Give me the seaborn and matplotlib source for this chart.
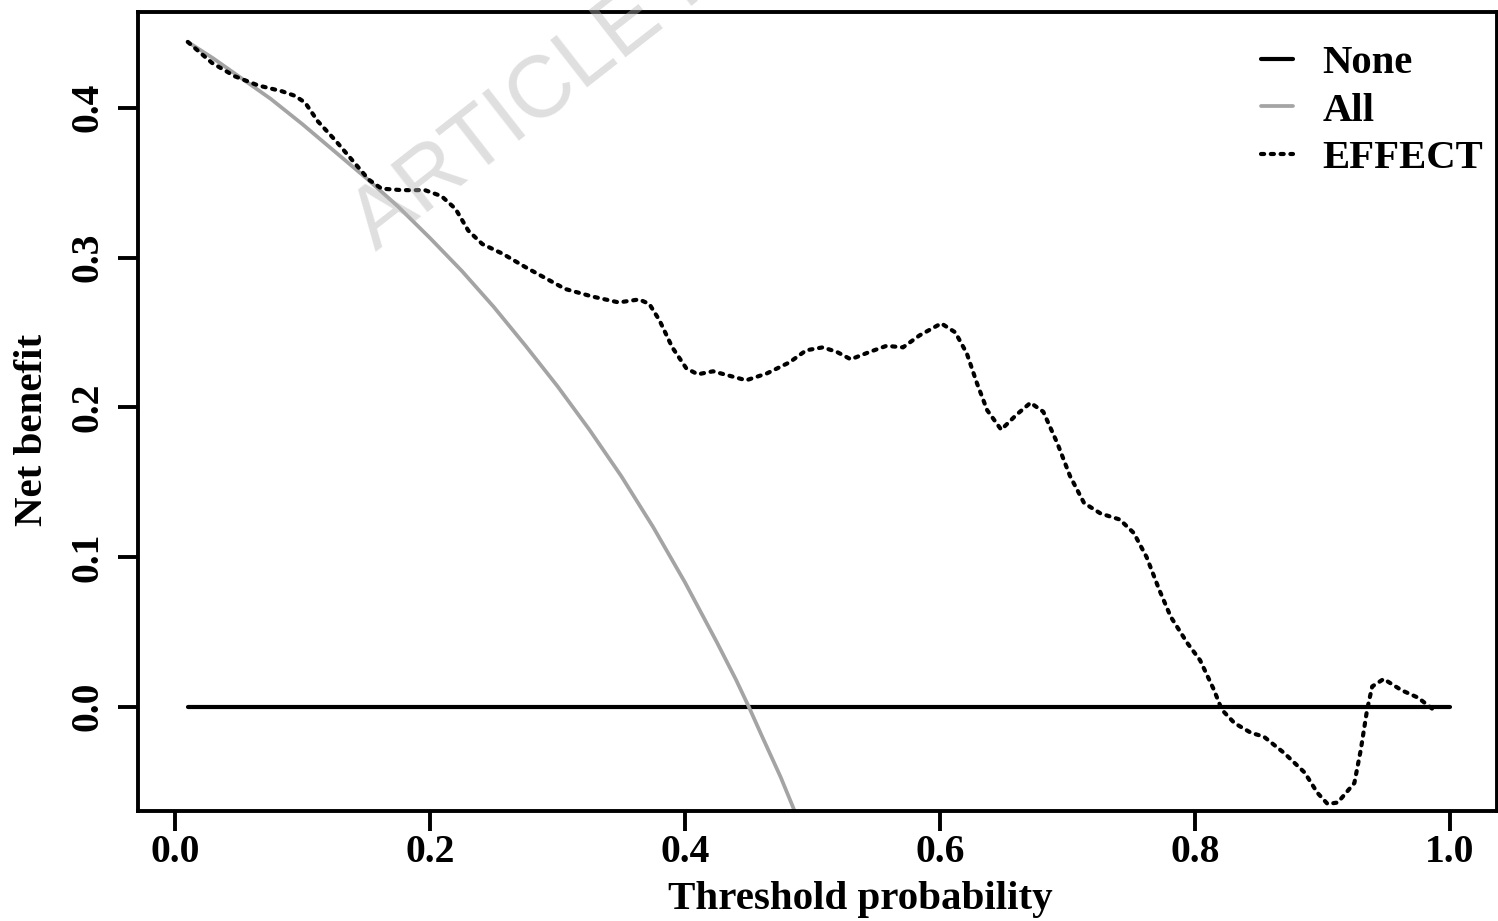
import matplotlib
matplotlib.use("Agg")
import matplotlib.pyplot as plt
import seaborn as sns
import pandas as pd

# Threshold probabilities and net benefit
none_x = [0.01, 1.00]
none_y = [0.0, 0.0]

all_x = [0.01, 0.03, 0.05, 0.075, 0.10, 0.125, 0.15, 0.175, 0.20, 0.225, 0.25, 0.275,
         0.30, 0.325, 0.35, 0.375, 0.40, 0.425, 0.44, 0.45, 0.46, 0.475, 0.49, 0.50]
all_y = [0.444, 0.433, 0.421, 0.406, 0.389, 0.371, 0.353, 0.334, 0.313, 0.291, 0.267, 0.241,
         0.214, 0.185, 0.154, 0.120, 0.083, 0.043, 0.018, 0.000, -0.019, -0.047, -0.078, -0.100]

effect_x = [0.010, 0.029, 0.047, 0.065, 0.084, 0.094, 0.102, 0.112, 0.126, 0.139,
            0.152, 0.162, 0.178, 0.196, 0.209, 0.220, 0.230, 0.241, 0.257, 0.275,
            0.291, 0.306, 0.327, 0.348, 0.364, 0.372, 0.380, 0.390, 0.401, 0.410,
            0.422, 0.435, 0.448, 0.464, 0.482, 0.495, 0.508, 0.519, 0.530, 0.545,
            0.558, 0.571, 0.584, 0.601, 0.612, 0.621, 0.629, 0.637, 0.648, 0.660,
            0.671, 0.681, 0.692, 0.702, 0.713, 0.726, 0.741, 0.752, 0.762, 0.772,
            0.781, 0.794, 0.804, 0.815, 0.821, 0.831, 0.844, 0.854, 0.870, 0.886,
            0.896, 0.904, 0.912, 0.925, 0.930, 0.935, 0.939, 0.948, 0.962, 0.975,
            0.990]
effect_y = [0.444, 0.430, 0.421, 0.415, 0.411, 0.408, 0.4035, 0.391, 0.378, 0.365,
            0.352, 0.346, 0.345, 0.345, 0.341, 0.3325, 0.318, 0.309, 0.3025, 0.2935,
            0.286, 0.279, 0.274, 0.270, 0.272, 0.269, 0.258, 0.240, 0.226, 0.222,
            0.224, 0.221, 0.218, 0.2225, 0.230, 0.238, 0.240, 0.237, 0.232, 0.237,
            0.241, 0.240, 0.248, 0.256, 0.250, 0.236, 0.216, 0.198, 0.185, 0.195,
            0.203, 0.197, 0.176, 0.154, 0.136, 0.129, 0.125, 0.116, 0.100, 0.078,
            0.060, 0.0425, 0.031, 0.011, -0.002, -0.011, -0.0175, -0.020, -0.031, -0.044,
            -0.0575, -0.065, -0.064, -0.051, -0.029, -0.002, 0.0135, 0.0185, 0.011, 0.006,
            -0.004]

x_ticks = [0.0, 0.2, 0.4, 0.6, 0.8, 1.0]
y_ticks = [0.0, 0.1, 0.2, 0.3, 0.4]

df_none = pd.DataFrame({"threshold": none_x, "net_benefit": none_y})
df_all = pd.DataFrame({"threshold": all_x, "net_benefit": all_y})
df_effect = pd.DataFrame({"threshold": effect_x, "net_benefit": effect_y})

sns.set_style("ticks")
plt.rcParams["font.family"] = ["Liberation Serif", "DejaVu Serif"]
plt.rcParams["font.weight"] = "bold"
plt.rcParams["text.color"] = "black"
plt.rcParams["axes.labelcolor"] = "black"
plt.rcParams["xtick.color"] = "black"
plt.rcParams["ytick.color"] = "black"

fig = plt.figure(figsize=(14.98, 9.21), dpi=100)
ax = fig.add_axes([0.0919, 0.1194, 0.9072, 0.8676])

sns.lineplot(data=df_none, x="threshold", y="net_benefit", ax=ax, color="black",
             linewidth=3.0, label="None", estimator=None, sort=False)
sns.lineplot(data=df_all, x="threshold", y="net_benefit", ax=ax, color="#a4a4a4",
             linewidth=2.7, label="All", estimator=None, sort=False)
sns.lineplot(data=df_effect, x="threshold", y="net_benefit", ax=ax, color="black",
             linewidth=3.0, label="EFFECT", estimator=None, sort=False,
             linestyle=(0, (0.75, 1.6)), dash_capstyle="round")

ax.set_xlim(-0.0293, 1.0366)
ax.set_ylim(-0.0697, 0.464)
ax.set_xticks(x_ticks)
ax.set_yticks(y_ticks)
ax.set_xticklabels([f"{v:.1f}" for v in x_ticks])
ax.set_yticklabels([f"{v:.1f}" for v in y_ticks])

for s in ax.spines.values():
    s.set_linewidth(2.8)
    s.set_color("black")
ax.tick_params(axis="both", direction="out", length=14.4, width=2.8, labelsize=28.5,
               colors="black")
ax.tick_params(axis="x", pad=2)
ax.tick_params(axis="y", pad=8)
plt.setp(ax.get_yticklabels(), rotation=90, va="center", fontweight="bold")
plt.setp(ax.get_xticklabels(), fontweight="bold")

ax.set_xlabel("Threshold probability", fontsize=29.5, fontweight="bold", color="black")
ax.set_ylabel("Net benefit", fontsize=29.5, fontweight="bold", color="black")
ax.xaxis.set_label_coords(0.5314, -0.087)
ax.yaxis.set_label_coords(-0.0638, 0.4768)

leg = ax.legend(loc="upper right", bbox_to_anchor=(0.99, 0.9587), frameon=False,
                handlelength=0.79, handletextpad=0.71, labelspacing=0.24,
                borderaxespad=0, borderpad=0, prop={"weight": "bold", "size": 29.3})
for t in leg.get_texts():
    t.set_color("black")

# faint watermark, partly cut off by the top edge
fig.text(376 / 1498, 1 - 252 / 921, "ARTICLE IN PRESS", rotation=38,
         rotation_mode="anchor", ha="left", va="baseline", fontsize=63,
         family="Liberation Sans", fontweight="normal", color="#b4b4b4", alpha=0.42)

fig.savefig("out.png", dpi=100)
